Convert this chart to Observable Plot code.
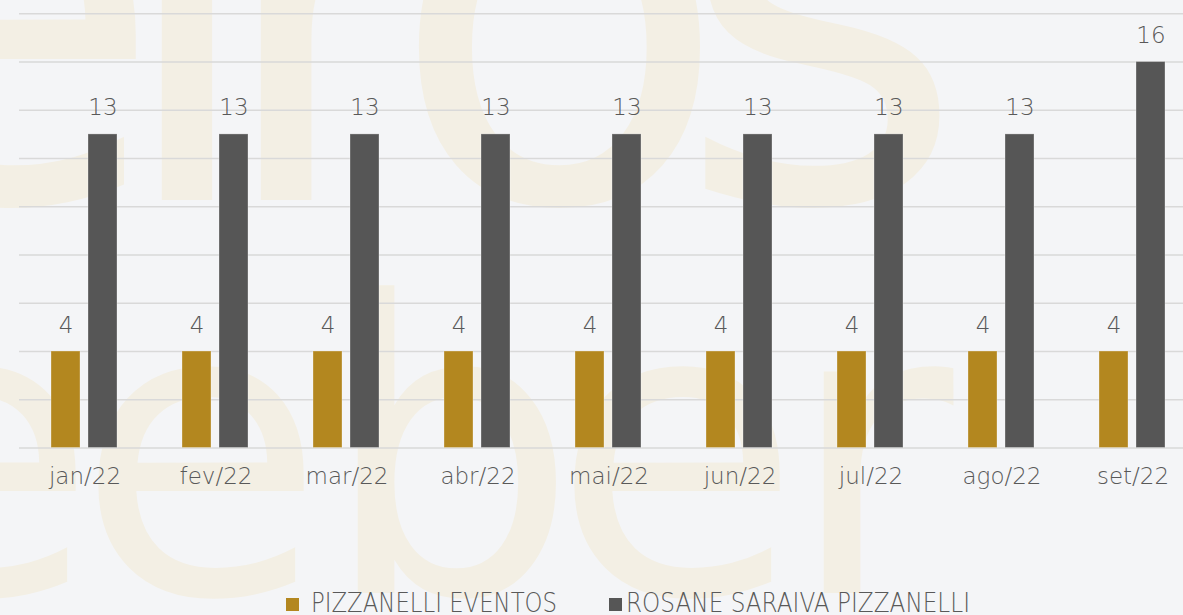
<!DOCTYPE html>
<html>
<head>
<meta charset="utf-8">
<script src="https://cdn.jsdelivr.net/npm/d3@7"></script>
<script src="https://cdn.jsdelivr.net/npm/@observablehq/plot@0.6"></script>
<style>
  html, body { margin: 0; padding: 0; background: #f4f5f7; }
  #wrap { position: relative; width: 1183px; height: 615px; overflow: hidden; background: #f4f5f7; }
  #wm, #chart, #legend { position: absolute; left: 0; top: 0; }
  #chart svg { max-width: none !important; }
</style>
</head>
<body>
<div id="wrap">
  <svg id="wm" width="1183" height="615" xmlns="http://www.w3.org/2000/svg">
    <g fill="#f3efe4" font-family="DejaVu Sans" font-weight="400">
      <text font-size="560" y="200" x="-179 109 210 388 675">eiros</text>
      <text font-size="405" y="593" x="-152 76 321 552 787">eeber</text>
    </g>
  </svg>
  <div id="chart"></div>
  <svg id="legend" width="1183" height="615" xmlns="http://www.w3.org/2000/svg"></svg>
</div>
<script>
const months = ["jan/22", "fev/22", "mar/22", "abr/22", "mai/22", "jun/22", "jul/22", "ago/22", "set/22"];
const seriesNames = ["PIZZANELLI EVENTOS", "ROSANE SARAIVA PIZZANELLI"];
const eventos = [4, 4, 4, 4, 4, 4, 4, 4, 4];
const rosane = [13, 13, 13, 13, 13, 13, 13, 13, 16];
const seriesColors = ["#b3871f", "#565656"];
const gridTicks = [0, 2, 4, 6, 8, 10, 12, 14, 16, 18];

const data = [];
months.forEach((m, i) => {
  data.push({month: m, series: seriesNames[0], value: eventos[i]});
  data.push({month: m, series: seriesNames[1], value: rosane[i]});
});

const FONT = '"DejaVu Sans ExtraLight", "DejaVu Sans", sans-serif';

const chart = Plot.plot({
  width: 1198,
  height: 500,
  marginLeft: 19,
  marginRight: 0,
  marginTop: 13.3,
  marginBottom: 52.5,
  style: {background: "transparent", fontFamily: FONT, fontWeight: 200, color: "#595959", overflow: "visible", maxWidth: "none"},
  fx: {domain: months, padding: 0, label: null},
  x: {domain: seriesNames, paddingInner: 0.214, paddingOuter: 0.858, axis: null},
  y: {domain: [0, 18], axis: null},
  color: {domain: seriesNames, range: seriesColors},
  marks: [
    Plot.gridY(gridTicks, {stroke: "#d9d9d9", strokeOpacity: 1, strokeWidth: 1.6}),
    Plot.barY(data, {fx: "month", x: "series", y: "value", fill: "series", stroke: "#ffffff", strokeOpacity: 0.3, strokeWidth: 1}),
    Plot.text(data, {fx: "month", x: "series", y: "value", text: d => String(d.value), dy: -19, lineAnchor: "bottom", fontSize: 23, fill: "#595959"}),
    Plot.axisFx({anchor: "bottom", tickSize: 0, tickPadding: 20, fontSize: 23, label: null, fill: "#595959"})
  ]
});
document.getElementById("chart").appendChild(chart);

// legend
const legend = d3.select("#legend");
const legendItems = [
  {name: seriesNames[0], color: seriesColors[0], sx: 286, tx: 311, len: 246},
  {name: seriesNames[1], color: seriesColors[1], sx: 609, tx: 626, len: 344}
];
legendItems.forEach(it => {
  legend.append("rect").attr("x", it.sx).attr("y", 598).attr("width", 13).attr("height", 13).attr("fill", it.color);
  legend.append("text").attr("x", it.tx).attr("y", 612)
    .attr("font-family", FONT).attr("font-weight", 200).attr("font-size", 26)
    .attr("fill", "#595959")
    .attr("textLength", it.len).attr("lengthAdjust", "spacingAndGlyphs")
    .text(it.name);
});
</script>
</body>
</html>
